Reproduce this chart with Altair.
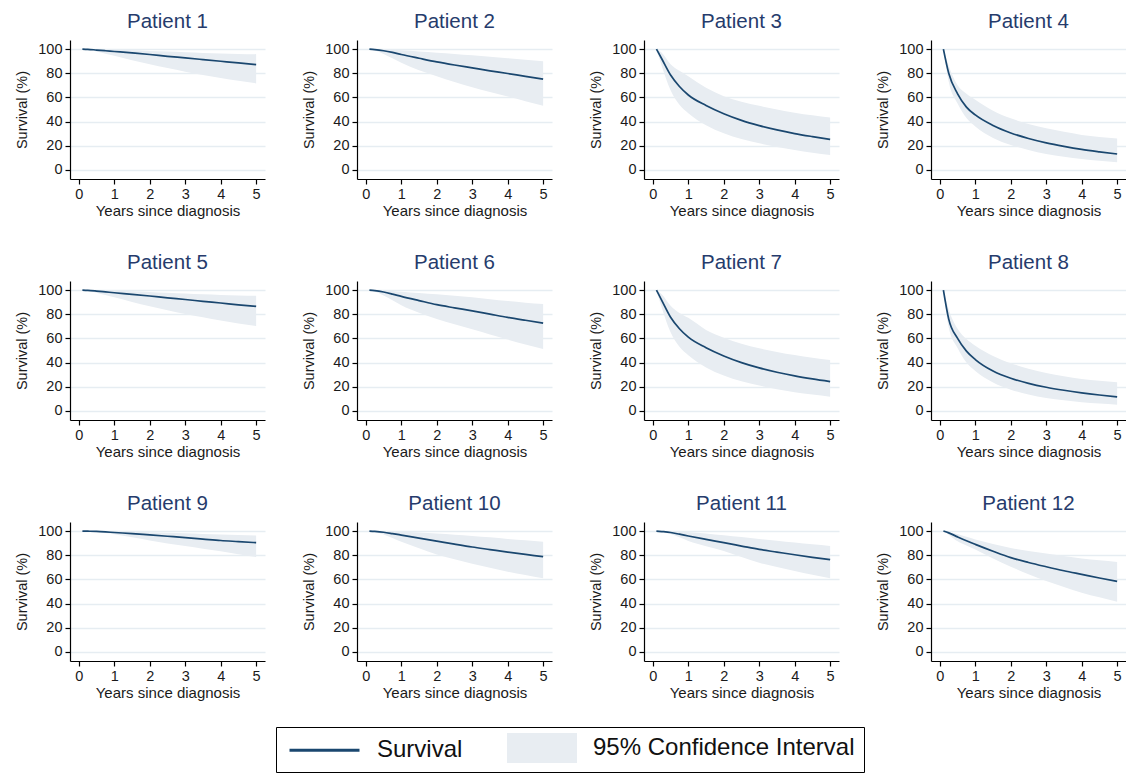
import altair as alt
import pandas as pd

# ---- data ----
TIMES = [0.1, 0.25, 0.5, 0.75, 1, 1.5, 2, 2.5, 3, 3.5, 4, 4.5, 5]

S1 = [100, 99.8, 99.2, 98.6, 98, 96.8, 95.5, 94, 92.7, 91.3, 89.9, 88.5, 87.2]
LO1 = [100, 99.5, 98, 96.2, 94.5, 90.8, 87.5, 84.3, 81.3, 78.6, 76.1, 73.8, 71.6]
HI1 = [100, 100, 99.9, 99.8, 99.6, 99.1, 98.5, 97.9, 97.3, 96.8, 96.3, 96, 95.8]

S2 = [100, 99.6, 98.6, 97.2, 95.5, 92.4, 89.4, 86.8, 84.4, 82, 79.8, 77.4, 75.2]
LO2 = [100, 99, 96, 92.3, 88.6, 82.5, 77.5, 72.7, 68.4, 64.4, 60.8, 56.8, 53]
HI2 = [100, 100, 99.8, 99.5, 99, 98, 97, 96, 94.9, 93.7, 92.5, 91.2, 90]

S3 = [100, 92, 78.5, 69, 62, 53.3, 46.5, 41, 36.7, 33.1, 30.1, 27.6, 25.3]
LO3 = [100, 86, 66, 54, 47, 37, 30.3, 25.5, 22, 19, 16.5, 14.3, 12.4]
HI3 = [100, 97, 87.5, 82, 77.5, 68, 61, 56.5, 53, 50, 47.4, 45.2, 43.3]

S4 = [100, 80, 63, 52, 45.5, 36.8, 30.6, 26, 22.4, 19.5, 17, 15, 13.2]
LO4 = [100, 73, 55, 43, 36, 26.5, 20.7, 16.5, 13.2, 11, 9, 7.6, 6.3]
HI4 = [100, 86, 70, 63, 58, 49, 42.7, 38, 34.4, 31.5, 29, 27.3, 26]

S5 = [100, 99.8, 99.2, 98.5, 97.8, 96.5, 95.1, 93.6, 92.2, 90.7, 89.3, 87.8, 86.5]
LO5 = [100, 99.4, 97.8, 95.9, 94, 90.2, 86.7, 83.4, 80.3, 77.5, 74.8, 72.4, 70.2]
HI5 = [100, 100, 99.9, 99.8, 99.6, 99.1, 98.5, 97.8, 97.1, 96.5, 96, 95.6, 95.3]

S6 = [100, 99.6, 98.4, 96.7, 94.8, 91.3, 87.9, 85.3, 82.8, 80.1, 77.4, 75, 72.7]
LO6 = [100, 98.8, 95.5, 91.5, 87.5, 81.2, 76, 71.7, 67.5, 63.3, 59, 55, 51.2]
HI6 = [100, 100, 99.8, 99.3, 98.6, 97.6, 96.5, 95.3, 94, 92.5, 91, 89.6, 88.4]

S7 = [100, 91.5, 77.5, 68, 61, 52.3, 45.5, 40, 35.6, 32, 29, 26.5, 24.3]
LO7 = [100, 85.5, 65, 53, 46, 36, 29.3, 24.5, 21, 18, 15.5, 13.5, 11.8]
HI7 = [100, 96.5, 87, 81, 77, 67, 60.5, 55.5, 51.8, 48.8, 46.2, 44, 42.2]

S8 = [100, 76, 60, 49.5, 42.5, 33, 27, 22.8, 19.6, 17.1, 15, 13.2, 11.6]
LO8 = [100, 69, 52, 40, 33, 23.5, 17.6, 13.6, 10.7, 8.8, 7.2, 6.1, 5.2]
HI8 = [100, 84, 68, 59.5, 54, 45.5, 39.5, 35, 31.4, 28.6, 26.4, 24.9, 23.7]

S9 = [100, 99.9, 99.7, 99.3, 98.8, 97.9, 96.8, 95.7, 94.6, 93.4, 92.2, 91.3, 90.4]
LO9 = [100, 99.8, 99.2, 98.3, 97.3, 94.8, 92.2, 89.8, 87.6, 85.4, 83.3, 80.8, 78.5]
HI9 = [100, 100, 100, 99.9, 99.8, 99.5, 99.1, 98.6, 98.1, 97.6, 97.1, 96.7, 96.4]

S10 = [100, 99.7, 99, 97.9, 96.7, 94.2, 91.7, 89.2, 86.8, 84.7, 82.6, 80.7, 78.8]
LO10 = [100, 99.3, 97.2, 94.3, 91.2, 85.8, 80.7, 76.7, 73, 69.7, 66.4, 63.6, 60.9]
HI10 = [100, 100, 99.9, 99.7, 99.4, 98.8, 98, 97, 96, 94.8, 93.5, 92.3, 91.2]

S11 = [100, 99.6, 98.8, 97.4, 95.9, 93.1, 90.4, 87.6, 84.8, 82.6, 80.4, 78.3, 76.3]
LO11 = [100, 99.3, 97.5, 94.8, 91.8, 87.5, 83.5, 78.5, 73.8, 70.2, 67, 63.9, 60.9]
HI11 = [100, 100, 99.9, 99.6, 99.2, 98, 96.5, 95, 93.5, 92, 90.5, 89, 87.6]

S12 = [100, 98.5, 95.2, 92, 89, 83.3, 78, 74, 70.5, 67.2, 64.2, 61.2, 58.4]
LO12 = [100, 97, 91.5, 88, 84.8, 77.3, 70.5, 64.3, 58.7, 53.7, 49, 45.2, 41.6]
HI12 = [100, 99.3, 97.6, 95.2, 93, 89.3, 86, 83.6, 81.5, 79.4, 77.4, 75.8, 74.4]

PATIENTS = [f"Patient {i}" for i in range(1, 13)]
SURV = [S1, S2, S3, S4, S5, S6, S7, S8, S9, S10, S11, S12]
LOWER = [LO1, LO2, LO3, LO4, LO5, LO6, LO7, LO8, LO9, LO10, LO11, LO12]
UPPER = [HI1, HI2, HI3, HI4, HI5, HI6, HI7, HI8, HI9, HI10, HI11, HI12]

X_TICKS = [0, 1, 2, 3, 4, 5]
Y_TICKS = [0, 20, 40, 60, 80, 100]
LEGEND_ITEMS = ["Survival", "95% Confidence Interval"]

rows = []
for name, s, lo, hi in zip(PATIENTS, SURV, LOWER, UPPER):
    for t, a, b, c in zip(TIMES, s, lo, hi):
        rows.append({"patient": name, "t": t, "surv": a, "lo": b, "hi": c})
df = pd.DataFrame(rows)

# ---- styling ----
NAVY = "#1a476f"
BAND = "#e8edf2"
GRID = "#e6edf2"
TITLE = "#263b6c"
FONT = "Liberation Sans"
LINE_PATH = "M-0.75,0L5.083,0"
RECT_PATH = "M-0.75,-1.25L5.083,-1.25L5.083,1.25L-0.75,1.25Z"

xscale = alt.Scale(domain=[-0.25, 5.25], nice=False, zero=False)
yscale = alt.Scale(domain=[-7.5, 107.5], nice=False, zero=False)
xaxis = alt.Axis(values=X_TICKS, title="Years since diagnosis", grid=False, format="d")
yaxis = alt.Axis(values=Y_TICKS, title="Survival (%)", grid=True, format="d")

band = alt.Chart().mark_area(color=BAND, interpolate="monotone").encode(
    x=alt.X("t:Q", scale=xscale, axis=xaxis),
    y=alt.Y("lo:Q", scale=yscale, axis=yaxis),
    y2="hi:Q",
)

line = alt.Chart().mark_line(color=NAVY, strokeWidth=1.7, interpolate="monotone").encode(
    x=alt.X("t:Q", scale=xscale, axis=xaxis),
    y=alt.Y("surv:Q", scale=yscale, axis=yaxis),
)

legend = alt.Legend(
    title=None, orient="none", legendX=206, legendY=687, direction="horizontal",
    labelFont=FONT, labelFontSize=24, labelColor="#111111", labelLimit=600,
    symbolSize=576, symbolOpacity=1, labelOffset=65, columnPadding=41,
    padding=9, strokeColor="#000000", fillColor="#ffffff",
)

pts = (
    alt.Chart()
    .transform_filter(alt.datum.t == 1)
    .transform_fold(["surv", "hi"], as_=["key", "value"])
    .transform_calculate(item="datum.key == 'surv' ? 'Survival' : '95% Confidence Interval'")
    .mark_point(opacity=0, filled=True, fillOpacity=1, strokeOpacity=1, size=1, clip=True)
    .encode(
        x=alt.X("t:Q", scale=xscale, axis=xaxis),
        y=alt.Y("value:Q", scale=yscale, axis=yaxis),
        fill=alt.Fill("item:N", scale=alt.Scale(domain=LEGEND_ITEMS, range=[NAVY, BAND]), legend=legend),
        stroke=alt.Stroke("item:N", scale=alt.Scale(domain=LEGEND_ITEMS, range=[NAVY, BAND]), legend=legend),
        strokeWidth=alt.StrokeWidth("item:N", scale=alt.Scale(domain=LEGEND_ITEMS, range=[3, 0]), legend=legend),
        shape=alt.Shape("item:N", scale=alt.Scale(domain=LEGEND_ITEMS, range=[LINE_PATH, RECT_PATH]), legend=legend),
    )
)

chart = (
    alt.layer(band, line, pts, data=df)
    .properties(width=195, height=139)
    .facet(
        facet=alt.Facet(
            "patient:N", sort=PATIENTS, title=None,
            header=alt.Header(labelFontSize=20.5, labelFont=FONT, labelColor=TITLE, labelPadding=8),
        ),
        columns=4,
        spacing={"row": 102, "column": 92},
        bounds="flush",
    )
    .resolve_axis(x="independent", y="independent")
    .properties(padding={"left": 6, "top": 3, "right": 0, "bottom": 0})
    .configure_view(stroke=None)
    .configure_axis(
        labelFont=FONT, titleFont=FONT, labelFontSize=14.5, titleFontSize=14.5,
        titleFontWeight="normal", labelColor="#1a1a1a", titleColor="#1a1a1a",
        domainColor="#000000", tickColor="#000000", tickSize=5, domainWidth=1.2, tickWidth=1.2,
        gridColor=GRID, gridWidth=1.6, labelPadding=3,
    )
    .configure_axisY(titlePadding=8)
    .configure_axisX(titlePadding=3, titleFontSize=15)
)

chart.save("out.html", embed_options={"renderer": "svg", "actions": False})
